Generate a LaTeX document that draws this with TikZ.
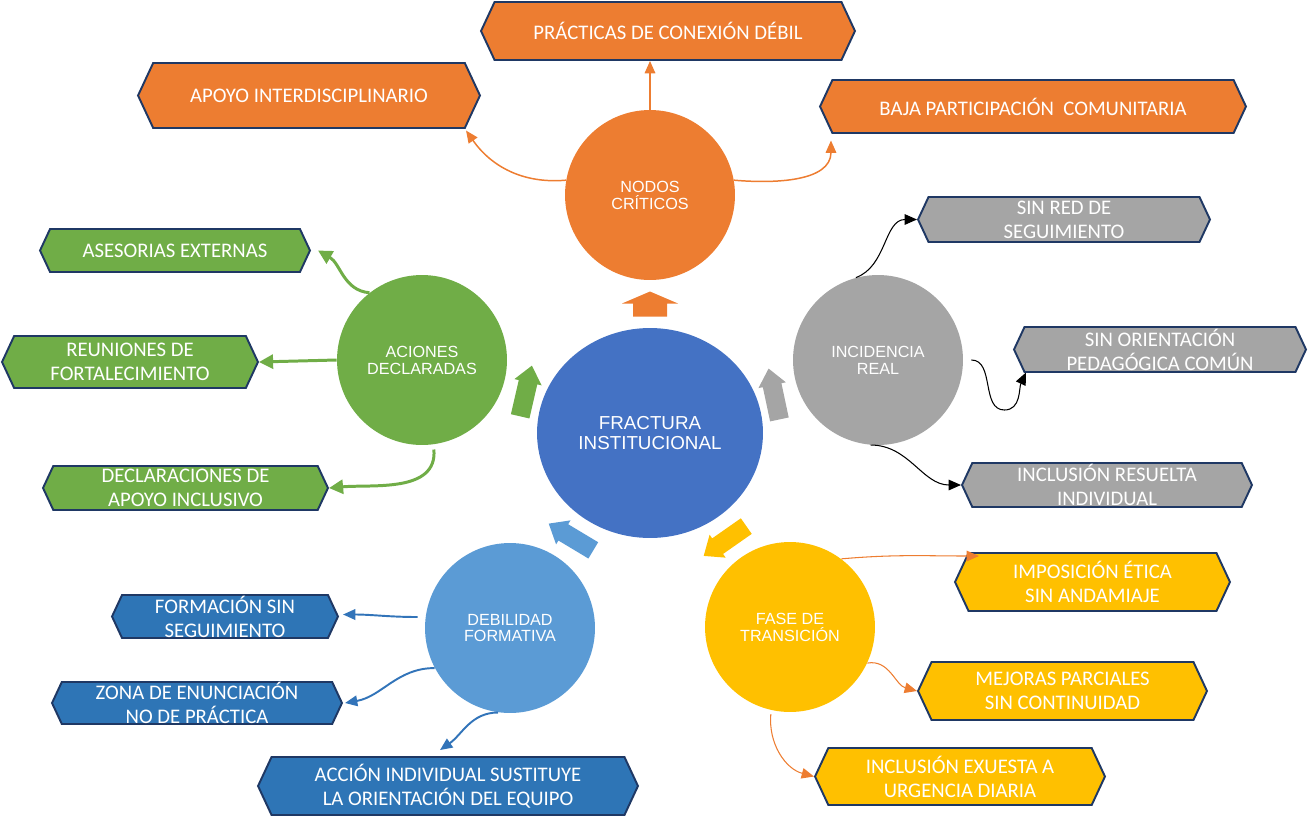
\documentclass[tikz,border=0pt]{standalone}
\usepackage{fontspec}
\setmainfont{Carlito}
\newfontfamily\arialfont{Liberation Sans}
\usepackage{xcolor}
\usetikzlibrary{arrows.meta, shapes.symbols, shapes.geometric}

\definecolor{orangeC}{HTML}{ED7D31}
\definecolor{grayC}{HTML}{A5A5A5}
\definecolor{greenC}{HTML}{70AD47}
\definecolor{centreC}{HTML}{4472C4}
\definecolor{skyC}{HTML}{5B9BD5}
\definecolor{boxblueC}{HTML}{2E75B6}
\definecolor{yellowC}{HTML}{FFC000}
\definecolor{navyC}{HTML}{1F3864}

\begin{document}
\begin{tikzpicture}[x=0.02cm, y=0.02cm,
  hexbox/.style={signal, signal to=east and west, signal pointer angle=130,
    draw=navyC, line width=1.1pt, text=white, align=center, inner sep=0pt,
    font=\fontsize{11.8}{13.6}\selectfont},
  bub/.style={circle, minimum size=3.4cm, inner sep=0pt, text=white, align=center,
    font=\arialfont\fontsize{9.2}{9.6}\selectfont},
  link/.style={-{Triangle[length=7pt,width=6pt]}, line width=0.85pt},
  thicklink/.style={-{Triangle[length=8pt,width=8pt]}, line width=1.7pt}]
  \useasboundingbox (0,0) rectangle (1308,-825);

  % Circles
  \node[ellipse, fill=centreC, minimum width=4.52cm, minimum height=4.2cm, inner sep=0pt,
    text=white, align=center, font=\arialfont\fontsize{10.7}{11.3}\selectfont]
    (fract) at (650,-433) {FRACTURA\\INSTITUCIONAL};
  \node[bub, fill=orangeC] (nodos) at (650,-195) {NODOS\\CRÍTICOS};
  \node[bub, fill=grayC]   (incid) at (878,-360) {INCIDENCIA\\REAL};
  \node[bub, fill=greenC]  (acc)   at (422,-360) {ACIONES\\DECLARADAS};
  \node[bub, fill=skyC]    (debil) at (510,-628) {DEBILIDAD\\FORMATIVA};
  \node[bub, fill=yellowC] (fase)  at (790,-627) {FASE DE\\TRANSICIÓN};

  % Block arrows round the centre
  \foreach \cx/\cy/\ang/\col/\len/\hw/\sw/\hl in {
      650/304/90/orangeC/25/56/34/12,
      526/391/77/greenC/52/28/19/17,
      774/394/102/grayC/52/28/19/17,
      571/537/149/skyC/52/28/19/17,
      725/541/-145/yellowC/52/28/19/17}
    \fill[\col, shift={(\cx,-\cy)}, rotate=\ang]
      (-\len/2,-\sw/2) -- (\len/2-\hl,-\sw/2) -- (\len/2-\hl,-\hw/2) -- (\len/2,0)
      -- (\len/2-\hl,\hw/2) -- (\len/2-\hl,\sw/2) -- (-\len/2,\sw/2) -- cycle;

  % Orange boxes
  \node[hexbox, fill=orangeC, minimum width=7.48cm, minimum height=1.16cm] (pract) at (668,-31) {PRÁCTICAS DE CONEXIÓN DÉBIL};
  \node[hexbox, fill=orangeC, minimum width=6.84cm, minimum height=1.30cm] (apoyo) at (309,-95.5) {APOYO INTERDISCIPLINARIO};
  \node[hexbox, fill=orangeC, minimum width=8.52cm, minimum height=1.06cm] (baja) at (1033,-106.5) {BAJA PARTICIPACIÓN\ \ COMUNITARIA};
  % Gray boxes
  \node[hexbox, fill=grayC, minimum width=5.84cm, minimum height=0.90cm] (sinred) at (1064,-219.5) {SIN RED DE\\SEGUIMIENTO};
  \node[hexbox, fill=grayC, minimum width=5.84cm, minimum height=0.90cm] (sinori) at (1160,-349.5) {SIN ORIENTACIÓN\\PEDAGÓGICA COMÚN};
  \node[hexbox, fill=grayC, minimum width=5.80cm, minimum height=0.88cm] (inclres) at (1107,-485) {INCLUSIÓN RESUELTA\\INDIVIDUAL};
  % Green boxes
  \node[hexbox, fill=greenC, minimum width=5.40cm, minimum height=0.86cm] (asesor) at (175,-250.5) {ASESORIAS EXTERNAS};
  \node[hexbox, fill=greenC, minimum width=5.12cm, minimum height=1.04cm] (reun) at (130,-362) {REUNIONES DE\\FORTALECIMIENTO};
  \node[hexbox, fill=greenC, minimum width=5.70cm, minimum height=0.88cm] (decl) at (185.5,-488) {DECLARACIONES DE\\APOYO INCLUSIVO};
  % Blue boxes
  \node[hexbox, fill=boxblueC, minimum width=4.52cm, minimum height=0.86cm] (formsin) at (225,-616.5) {FORMACIÓN SIN\\SEGUIMIENTO};
  \node[hexbox, fill=boxblueC, minimum width=5.80cm, minimum height=0.84cm] (zona) at (197,-703) {ZONA DE ENUNCIACIÓN\\NO DE PRÁCTICA};
  \node[hexbox, fill=boxblueC, minimum width=7.60cm, minimum height=1.16cm] (accion) at (448,-786) {ACCIÓN INDIVIDUAL SUSTITUYE\\LA ORIENTACIÓN DEL EQUIPO};
  % Yellow boxes
  \node[hexbox, fill=yellowC, minimum width=5.50cm, minimum height=1.16cm] (impos) at (1092.5,-582) {IMPOSICIÓN ÉTICA\\SIN ANDAMIAJE};
  \node[hexbox, fill=yellowC, minimum width=5.78cm, minimum height=1.16cm] (mejoras) at (1062.5,-691) {MEJORAS PARCIALES\\SIN CONTINUIDAD};
  \node[hexbox, fill=yellowC, minimum width=5.80cm, minimum height=1.14cm] (inclexp) at (960,-776.5) {INCLUSIÓN EXUESTA A\\URGENCIA DIARIA};

  % Connectors
  \draw[link, orangeC] (nodos.north) -- (nodos.north |- pract.south);
  \draw[link, orangeC] (nodos.170) to[out=185,in=-55] ([shift={(-15,-35)}]apoyo.east);
  \draw[link, orangeC] (nodos.10) to[out=-5,in=-90] ([shift={(12,-34)}]baja.west);

  \draw[link, line width=0.6pt] (incid.105) to[out=20,in=180] (sinred.west);
  \draw[link, line width=0.6pt] ([shift={(8,0)}]incid.east) to[out=0,in=180] ++(33,-50)
    to[out=0,in=-115] ([shift={(13,-23)}]sinori.west);
  \draw[link, line width=0.6pt] (incid.265) to[out=0,in=180] (inclres.west);

  \draw[thicklink, greenC] (acc.128) to[out=175,in=-30] ([shift={(7,0)}]asesor.east);
  \draw[thicklink, greenC] (acc.west) -- (reun.east);
  \draw[thicklink, greenC] ([shift={(0,-5)}]acc.-82) to[out=-85,in=5] (decl.east);

  \draw[link, boxblueC!80!centreC, line width=1.1pt] ([shift={(-7,11)}]debil.west) to[out=180,in=0] ([shift={(4,2)}]formsin.east);
  \draw[link, boxblueC!80!centreC, line width=1.1pt] (debil.208) to[out=180,in=10] ([shift={(2,0)}]zona.east);
  \draw[link, boxblueC!80!centreC, line width=1.1pt] (debil.262) to[out=180,in=35] ([shift={(-8,6)}]accion.north);

  \draw[link, orangeC, line width=0.6pt] (fase.53) to[out=5,in=180] ([shift={(25,26)}]impos.west);
  \draw[link, orangeC, line width=0.6pt] (fase.-25) to[out=10,in=165] (mejoras.west);
  \draw[link, orangeC, line width=0.6pt] ([shift={(0,-4)}]fase.-103) to[out=-95,in=165] (inclexp.west);
\end{tikzpicture}
\end{document}
